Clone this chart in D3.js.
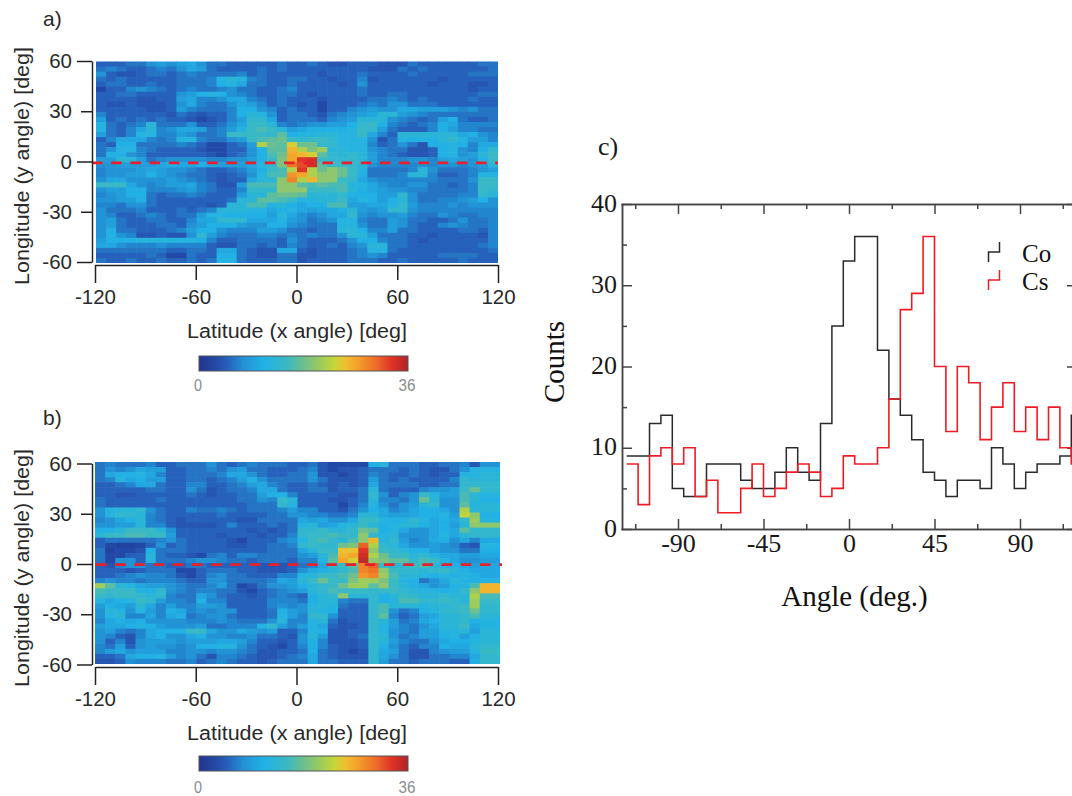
<!DOCTYPE html>
<html><head><meta charset="utf-8">
<script src="https://cdn.jsdelivr.net/npm/d3@7/dist/d3.min.js"></script>
<style>html,body{margin:0;padding:0;background:#fff;overflow:hidden}svg{display:block}</style>
</head><body><svg id="c" width="1072" height="796"></svg>
<script>
const latTicks=[-120,-60,0,60,120];
const lonTicks=[-60,-30,0,30,60];
const angleTicks=[-90,-45,0,45,90];
const angleMinor=[-112.5,-67.5,-22.5,22.5,67.5,112.5];
const countTicks=[0,10,20,30,40];
const countMinor=[5,15,25,35];
const scaleLabels=["0","36"];
const coCounts=[9,9,13,14,5,4,4,8,8,8,6,5,5,7,10,7,6,13,25,33,36,36,22,16,14,11,7,6,4,6,6,5,10,8,5,7,8,8,9,14];
const csCounts=[8,3,9,10,8,10,4,6,2,2,5,8,4,5,7,8,7,4,5,9,8,8,10,16,27,29,36,20,12,20,18,11,15,18,12,15,11,15,10,8];
const gridA=[
[5,5,5,6,6,8,9,8,9,10,8,6,6,5,5,5,5,5,6,5,5,6,5,4,4,5,5,5,4,4,4,6,5,5,5,5,5,5,6,6],
[6,7,6,5,5,6,7,6,8,10,9,6,5,5,5,5,6,5,6,5,5,5,5,5,5,5,5,4,4,4,6,5,6,5,5,5,5,5,5,6],
[8,5,4,4,5,6,6,5,6,7,6,6,6,6,7,5,6,5,5,5,5,5,4,5,5,5,6,5,5,5,5,6,5,5,5,5,5,6,6,6],
[6,5,6,5,5,5,5,5,6,6,6,7,12,13,12,7,6,5,5,6,6,5,5,4,5,5,7,4,5,5,5,5,5,5,4,5,5,5,5,5],
[5,6,6,5,5,6,5,5,6,6,6,7,11,12,10,6,6,5,5,6,5,5,5,5,4,5,8,5,5,5,5,5,5,4,5,5,5,4,4,5],
[3,5,5,7,8,7,6,5,6,7,6,6,7,8,6,6,5,5,6,7,5,5,5,5,5,5,6,5,5,5,5,5,5,5,5,5,5,4,5,5],
[5,5,6,6,5,5,5,5,8,9,11,12,11,8,7,6,5,5,6,6,5,4,5,5,5,5,6,5,5,6,6,5,5,5,5,5,5,5,6,6],
[5,5,5,5,4,4,5,5,9,10,7,7,8,10,10,7,6,5,6,5,5,5,4,5,5,5,5,6,6,7,6,5,6,5,5,5,5,6,5,5],
[5,4,4,5,4,4,4,5,8,10,7,6,6,8,10,9,7,5,6,5,4,5,3,5,5,5,6,7,6,8,8,6,6,6,5,5,5,5,5,5],
[5,5,5,5,5,4,4,5,9,7,6,6,6,7,11,11,8,7,5,6,5,5,3,5,5,7,8,9,8,8,10,10,9,9,9,8,7,8,6,6],
[7,5,5,5,5,5,5,4,6,5,4,5,5,7,11,13,12,8,5,6,6,5,4,6,7,8,9,10,13,13,9,8,7,6,6,6,6,6,6,6],
[9,5,6,5,6,5,6,5,5,4,3,4,5,7,9,14,14,10,5,6,6,6,5,7,8,9,13,13,13,8,7,6,5,6,9,11,6,5,5,6],
[12,6,5,6,7,13,6,6,6,8,5,5,6,8,10,15,15,13,7,6,7,8,8,9,9,11,14,15,11,7,6,5,6,7,11,10,7,7,7,7],
[12,6,5,7,10,13,7,8,10,10,9,6,7,9,12,15,16,15,13,9,10,11,11,11,11,12,15,14,9,6,5,5,5,7,11,9,7,7,6,6],
[9,6,5,7,12,12,7,7,9,8,6,6,7,15,15,15,15,14,17,11,12,12,13,13,12,12,15,10,7,5,13,13,13,13,13,13,10,11,8,7],
[5,7,10,10,10,7,6,7,12,12,7,6,6,8,9,15,16,17,18,15,14,15,15,14,12,12,12,8,4,6,12,11,12,11,13,14,12,9,9,7],
[6,5,11,11,6,6,6,6,7,6,5,3,3,5,6,9,22,18,17,24,18,18,14,14,12,12,12,7,5,6,8,6,4,11,11,12,11,7,10,10],
[6,8,12,12,7,6,5,5,5,5,4,3,3,5,5,8,11,17,17,26,22,19,21,13,13,12,12,8,7,6,6,4,4,5,11,12,8,7,11,14],
[6,11,11,8,7,5,5,5,5,5,5,4,3,5,6,8,11,16,18,27,26,24,17,14,13,14,13,9,7,6,5,4,4,5,11,12,8,9,13,15],
[9,9,13,13,9,6,7,8,8,8,8,7,7,8,8,9,11,15,19,27,33,34,15,14,14,14,13,9,7,7,7,8,8,7,9,10,9,8,11,15],
[8,8,9,9,9,9,10,11,10,10,11,10,9,9,9,10,12,14,19,30,32,34,17,15,15,14,13,8,7,7,7,7,8,7,8,8,7,8,9,13],
[7,8,8,8,9,10,9,8,8,7,6,5,5,6,7,9,11,15,16,22,33,22,18,20,18,15,12,6,6,6,6,7,13,8,6,6,6,7,8,9],
[7,8,8,9,9,11,9,8,7,6,6,5,4,5,6,8,12,16,16,28,27,22,20,20,18,15,11,6,6,6,7,13,13,7,5,5,6,7,12,12],
[8,10,10,8,8,8,8,9,8,7,6,5,4,5,5,10,13,13,20,29,22,26,20,20,15,14,10,8,7,7,7,7,7,7,6,6,6,8,15,15],
[15,15,15,10,8,7,8,9,9,10,7,6,4,4,9,16,16,16,20,20,17,16,17,16,16,12,12,10,8,7,7,8,8,6,6,5,6,7,15,15],
[8,9,9,11,11,7,7,7,8,9,7,6,5,5,7,14,14,14,20,20,20,15,15,15,16,13,11,10,9,8,8,7,7,6,6,6,6,7,15,14],
[7,8,9,11,11,6,5,6,6,7,6,5,5,5,9,13,13,17,18,18,17,13,13,13,14,11,11,11,9,9,14,8,6,6,6,6,7,7,14,13],
[8,8,9,9,11,6,5,5,5,5,5,5,5,6,13,13,17,17,16,15,12,12,13,13,15,10,12,11,9,11,13,8,6,6,7,7,8,9,11,8],
[7,7,6,8,8,6,5,5,5,5,5,4,5,13,13,16,16,12,13,11,10,11,11,16,16,9,9,10,10,12,14,9,7,7,7,8,7,8,8,8],
[8,6,6,6,7,5,5,5,6,5,6,7,13,13,13,12,12,10,11,12,10,9,10,10,11,13,9,8,9,14,14,8,7,7,7,7,7,7,7,7],
[8,7,5,5,6,7,6,5,6,6,9,12,12,11,11,11,11,9,13,10,8,7,8,10,10,14,8,7,8,8,9,7,6,6,8,7,6,6,7,7],
[8,9,6,5,5,6,6,5,5,7,10,10,14,14,14,10,10,10,12,9,8,6,7,8,12,12,7,6,6,9,8,6,6,5,5,6,8,6,6,7],
[8,9,6,5,5,5,6,6,5,8,9,11,11,11,9,8,8,11,11,8,7,6,6,6,12,12,8,6,6,9,8,6,5,5,7,8,7,6,6,7],
[8,11,6,6,5,5,5,6,7,9,11,11,8,7,7,7,9,9,8,6,6,5,6,6,13,13,11,7,7,9,6,6,5,5,5,5,6,6,5,7],
[8,11,8,7,4,4,5,4,4,8,14,9,7,6,6,6,7,7,6,7,6,7,6,6,8,13,13,9,6,6,6,5,5,4,5,5,5,5,4,7],
[9,11,11,11,12,12,12,12,12,12,11,7,5,5,6,6,6,6,5,8,6,5,5,5,6,8,11,11,7,6,6,5,4,5,5,5,5,5,5,7],
[10,10,8,7,7,7,8,7,7,7,7,5,4,4,6,6,5,6,5,7,6,5,5,6,5,7,8,13,13,6,6,5,5,5,5,5,5,5,6,7],
[6,6,6,6,6,6,6,5,5,6,6,5,10,10,6,5,4,4,10,10,5,4,5,5,5,6,7,12,12,6,5,5,5,5,5,5,5,5,5,6],
[5,5,5,5,5,6,5,3,3,6,5,5,11,11,6,5,4,4,6,6,4,4,5,5,5,6,7,8,7,5,5,5,5,5,6,6,6,6,5,5],
[6,5,5,6,5,5,6,5,5,6,5,6,12,12,6,5,5,5,6,6,4,5,5,5,5,6,6,6,5,5,6,5,5,5,5,5,6,5,5,5]
];
const gridB=[
[6,7,6,6,6,7,5,5,6,6,6,8,6,5,6,7,6,6,6,5,5,6,4,3,3,3,3,11,13,6,6,6,5,5,6,6,7,4,8,8],
[6,8,7,8,10,9,9,5,5,6,6,7,6,8,9,6,6,5,5,5,6,7,4,3,4,4,5,6,6,6,5,6,5,4,4,6,8,12,12,12],
[6,10,11,11,12,10,7,5,5,6,6,6,7,10,10,8,6,5,5,6,6,8,4,4,3,4,5,7,6,5,5,6,5,4,5,5,12,12,13,13],
[6,7,12,10,11,9,9,5,5,6,6,5,6,7,9,11,8,6,6,6,6,8,6,4,4,4,5,9,6,5,6,5,5,5,5,7,14,13,13,13],
[5,5,6,7,10,10,6,5,5,7,7,5,5,6,7,9,10,7,6,5,5,6,5,4,5,4,5,10,6,6,6,6,5,5,6,6,14,14,14,14],
[5,5,5,5,5,6,6,5,5,8,6,4,5,6,6,7,10,10,6,5,5,6,6,4,5,5,6,13,6,5,5,5,7,8,8,9,15,18,14,14],
[5,5,4,4,5,5,5,5,5,6,5,4,5,5,6,6,9,11,11,7,5,5,5,5,4,4,6,14,8,5,7,8,15,12,9,9,16,13,12,12],
[6,5,5,5,5,5,6,5,5,5,5,5,5,5,6,6,8,7,15,13,5,5,5,4,4,5,6,13,7,7,6,8,18,13,8,8,16,13,11,11],
[6,5,5,5,5,5,5,5,5,5,5,5,5,5,5,6,6,6,14,12,5,5,5,5,3,5,7,12,8,6,8,9,13,14,8,8,17,12,13,13],
[8,12,13,13,14,8,6,5,5,7,6,6,7,6,5,6,6,6,7,9,7,7,5,5,4,6,8,11,10,7,8,10,11,11,10,8,22,13,13,13],
[8,12,14,14,13,7,6,5,5,5,5,5,6,5,5,5,5,6,6,8,8,7,7,6,6,7,13,13,10,9,9,10,11,11,12,9,23,20,11,11],
[7,8,10,11,13,7,6,5,4,5,5,5,5,5,4,4,6,6,6,6,10,9,10,8,8,10,15,15,12,11,12,14,12,10,11,10,14,21,12,12],
[8,8,9,9,13,7,7,5,4,4,4,4,5,7,5,5,5,6,5,6,12,13,9,10,12,13,15,13,11,12,13,13,11,10,11,9,13,20,20,20],
[11,11,13,15,15,15,13,8,5,5,5,5,5,5,5,4,5,4,5,6,14,14,15,13,13,14,18,17,11,12,10,8,8,10,11,10,17,14,14,14],
[13,15,15,16,16,15,15,9,5,5,5,5,4,5,5,5,4,5,5,7,14,15,15,16,15,14,20,14,12,13,8,8,8,10,12,10,13,14,14,14],
[5,6,6,6,6,6,7,8,6,5,5,5,5,4,3,5,5,5,7,8,12,15,16,14,13,16,20,26,12,14,9,7,8,10,11,8,10,7,10,10],
[5,3,2,2,3,5,8,5,6,5,5,5,5,4,4,5,5,6,6,7,14,15,14,14,18,19,31,22,14,13,10,8,8,9,8,7,5,4,12,12],
[6,2,3,3,4,11,6,6,6,5,5,5,5,5,5,5,5,6,6,6,10,13,15,15,25,25,33,20,15,14,13,11,11,9,8,8,6,6,11,11],
[6,3,3,5,5,13,6,5,5,4,3,6,7,5,7,7,6,6,6,6,8,9,13,16,26,27,34,22,18,15,15,13,14,12,10,10,9,9,10,10],
[6,3,8,8,5,12,6,6,6,7,8,8,7,6,6,5,6,6,6,5,7,7,12,17,27,24,35,20,19,17,17,14,16,15,12,10,8,8,9,9],
[5,4,7,8,8,6,6,5,5,6,6,5,5,5,5,5,4,4,4,5,6,7,10,14,15,17,29,31,15,13,14,15,16,13,11,11,10,9,10,10],
[5,5,5,4,5,6,6,6,3,3,5,6,6,6,5,5,4,4,4,5,8,10,11,13,14,16,29,30,20,15,14,14,13,14,15,13,11,10,10,10],
[5,5,6,7,8,7,7,6,4,3,5,7,8,6,6,5,5,5,7,7,12,13,15,15,16,18,28,29,21,16,13,13,12,11,12,11,12,11,10,10],
[7,8,7,7,6,7,7,7,6,5,5,8,8,6,6,6,6,7,10,9,13,15,18,15,15,19,21,21,19,15,12,11,6,8,10,13,12,11,12,12],
[21,17,13,12,10,9,9,8,7,6,6,7,9,6,3,4,6,8,8,9,11,13,14,15,18,21,21,17,20,15,13,11,10,8,9,11,12,16,26,26],
[16,15,15,15,12,11,14,8,7,6,7,7,6,6,4,3,5,6,7,8,9,13,14,16,15,15,15,14,15,15,14,13,12,12,11,12,14,20,26,26],
[15,14,15,15,14,13,14,7,6,6,10,8,6,5,5,4,5,6,7,6,5,11,13,14,20,13,13,14,11,13,15,14,13,13,14,13,13,22,16,16],
[12,10,11,12,15,14,9,7,7,6,11,7,7,5,5,5,5,7,7,7,6,11,13,13,7,6,6,14,11,12,16,16,14,14,15,14,13,21,15,15],
[9,11,10,9,13,10,7,9,7,7,9,9,8,5,5,5,5,7,8,7,8,12,13,12,6,5,5,14,16,13,13,13,12,13,13,14,15,21,14,14],
[8,13,12,8,12,9,7,11,10,7,8,7,8,8,5,5,5,6,11,9,8,13,12,11,5,5,5,14,16,8,6,7,11,12,14,14,15,18,14,14],
[8,12,13,7,7,10,7,10,11,6,7,8,8,6,5,5,5,6,12,9,7,14,14,8,5,5,5,14,17,7,5,6,9,10,13,13,14,16,13,13],
[7,10,11,10,11,8,8,8,8,7,7,7,8,7,6,6,6,8,13,7,7,12,13,6,4,5,5,14,13,9,6,7,10,11,13,13,14,11,12,12],
[9,10,10,11,12,11,9,8,8,8,9,6,6,7,7,7,12,14,9,7,9,12,10,5,4,4,5,14,12,9,7,6,8,10,13,13,15,10,12,12],
[8,9,7,6,7,10,11,11,11,15,15,10,8,8,10,9,8,9,5,5,7,12,11,4,4,5,5,14,12,8,7,6,9,9,12,12,13,9,13,13],
[8,7,5,4,7,10,11,8,8,10,11,8,8,7,7,8,6,6,5,4,8,13,9,4,4,5,6,14,13,8,6,7,9,9,11,12,9,11,13,13],
[8,5,7,4,8,9,9,9,8,9,9,9,10,10,9,7,5,5,4,5,8,11,7,4,4,4,5,14,13,9,7,6,6,8,10,11,11,12,13,13],
[7,6,9,5,8,9,8,8,7,8,11,11,12,12,8,6,5,4,3,5,7,11,7,5,4,4,5,14,11,8,6,5,7,7,11,10,10,13,14,14],
[7,9,10,8,9,9,9,7,7,8,8,7,8,8,7,6,4,4,5,5,6,11,6,5,4,3,4,14,10,9,6,4,4,7,8,9,9,12,15,15],
[5,5,6,10,11,11,12,9,7,8,6,4,7,7,6,5,4,4,5,6,7,10,6,5,4,4,4,14,10,8,6,4,4,6,6,7,7,10,14,14],
[4,4,5,8,7,7,7,6,6,7,5,6,7,6,5,5,4,5,6,6,6,10,6,6,5,5,5,14,9,6,6,5,6,6,6,5,5,11,14,14]
];

const svg=d3.select("#c");
const sans="'Liberation Sans',Arial,sans-serif", serif="'Liberation Serif','Times New Roman',serif";
const defs=svg.append("defs");
defs.append("filter").attr("id","soft").attr("x","-2%").attr("y","-2%").attr("width","104%").attr("height","104%")
  .append("feGaussianBlur").attr("stdDeviation",0.55);
const stops=[[0,"#22368e"],[0.08,"#2449a6"],[0.14,"#2662bc"],[0.21,"#2490d4"],[0.31,"#20b2e6"],[0.42,"#3ab9c4"],[0.5,"#6dbf8f"],[0.58,"#9ccb5e"],[0.65,"#c8d636"],[0.7,"#eec030"],[0.76,"#f59f2a"],[0.85,"#ec6a28"],[0.92,"#df3326"],[1,"#b1232a"]];
const color=d3.scaleLinear().domain(stops.map(s=>s[0]*36)).range(stops.map(s=>s[1])).clamp(true);

function heatPanel(grid,o){
  const nr=grid.length,nc=grid[0].length;
  const x=d3.scaleLinear().domain([-120,120]).range([o.x0,o.x1]);
  const y=d3.scaleLinear().domain([60,-60]).range([o.y0,o.y1]);
  const dx=240/nc,dy=120/nr;
  const g=svg.append("g").attr("filter","url(#soft)");
  grid.forEach((row,r)=>row.forEach((v,c)=>{
    const a=-120+c*dx,t=60-r*dy;
    g.append("rect").attr("x",x(a)).attr("y",y(t))
     .attr("width",x(a+dx)-x(a)+(c<nc-1?0.6:0)).attr("height",y(t-dy)-y(t)+(r<nr-1?0.6:0)).attr("fill",color(v));
  }));
  svg.append("line").attr("x1",o.dashFrom).attr("x2",o.dashTo).attr("y1",y(0)+o.dashDy).attr("y2",y(0)+o.dashDy)
    .attr("stroke","#e8202c").attr("stroke-width",2.8).attr("stroke-dasharray","10.5 8.7");
  const ax=svg.append("g").attr("transform",`translate(0,${o.axisY})`)
    .call(d3.axisBottom(d3.scaleLinear().domain([-120,120]).range([95,498])).tickValues(latTicks).tickSize(18).tickPadding(6.5).tickSizeOuter(0).tickFormat(d=>String(d)));
  ax.selectAll(".tick line").attr("y2",d=>Math.abs(d)===60?15:18);
  const ay=svg.append("g").attr("transform",`translate(92,0)`)
    .call(d3.axisLeft(d3.scaleLinear().domain([60,-60]).range([o.tickY0,o.tickY0+201])).tickValues(lonTicks).tickSize(15).tickPadding(5).tickSizeOuter(0).tickFormat(d=>String(d)));
  ay.selectAll(".tick line").attr("x2",d=>Math.abs(d)===30?-11:-15);
  [ax,ay].forEach(s=>{
    s.selectAll("path,line").attr("stroke","#222").attr("stroke-width",1.5);
    s.selectAll("text").attr("font-family",sans).attr("font-size",20.5).attr("fill","#2a2a2a");
  });
  svg.append("text").attr("transform",`translate(28.5,${o.ylabY}) rotate(-90)`).attr("text-anchor","middle")
    .attr("font-family",sans).attr("font-size",20).attr("fill","#2a2a2a")
    .attr("textLength",238).attr("lengthAdjust","spacingAndGlyphs").text("Longitude (y angle) [deg]");
  svg.append("text").attr("x",297).attr("y",o.xlabY).attr("text-anchor","middle")
    .attr("font-family",sans).attr("font-size",20).attr("fill","#2a2a2a")
    .attr("textLength",220).attr("lengthAdjust","spacingAndGlyphs").text("Latitude (x angle) [deg]");
  svg.append("text").attr("x",43).attr("y",o.tagY).attr("font-family",sans).attr("font-size",21).attr("fill","#2a2a2a").text(o.tag);
  // colour bar
  const gid="cb"+o.tag[0];
  const lg=defs.append("linearGradient").attr("id",gid);
  stops.forEach(s=>lg.append("stop").attr("offset",s[0]).attr("stop-color",s[1]));
  svg.append("rect").attr("x",199).attr("y",o.barY).attr("width",209).attr("height",15)
    .attr("fill",`url(#${gid})`).attr("stroke","#555").attr("stroke-width",1);
  svg.append("text").attr("x",198).attr("y",o.barLab).attr("text-anchor","middle").attr("font-family",sans)
    .attr("font-size",17).attr("fill","#8c8c8c").attr("textLength",8).attr("lengthAdjust","spacingAndGlyphs").text(scaleLabels[0]);
  svg.append("text").attr("x",407).attr("y",o.barLab).attr("text-anchor","middle").attr("font-family",sans)
    .attr("font-size",17).attr("fill","#8c8c8c").attr("textLength",17).attr("lengthAdjust","spacingAndGlyphs").text(scaleLabels[1]);
}
heatPanel(gridA,{x0:96,x1:498,y0:61.5,y1:263,axisY:265,tickY0:61,dashFrom:92,dashTo:498,dashDy:0.6,ylabY:166,xlabY:338,tagY:26,tag:"a)",barY:356,barLab:391});
heatPanel(gridB,{x0:95,x1:500,y0:462,y1:664,axisY:667,tickY0:463.5,dashFrom:96,dashTo:502,dashDy:1.7,ylabY:568,xlabY:740,tagY:425,tag:"b)",barY:756,barLab:793});

// panel c
const L=622,R=1077,T=204,B=529;
const xc=d3.scaleLinear().domain([-120,120]).range([621,R]);
const yc=d3.scaleLinear().domain([0,40]).range([B,T]);
const ink="#444";
function styl(s,fs){
  s.selectAll("path,line").attr("stroke",ink).attr("stroke-width",1.5);
  s.selectAll("text").attr("font-family",serif).attr("font-size",fs).attr("fill","#1a1a1a");
}
[[d3.axisBottom,B,true],[d3.axisTop,T,false]].forEach(([f,yy,lab])=>{
  const main=svg.append("g").attr("transform",`translate(0,${yy})`)
    .call(f(xc).tickValues(angleTicks).tickSize(-10).tickSizeOuter(0).tickPadding(lab?4.5:0).tickFormat(lab?(d=>String(d)):""));
  styl(main,26);
  const minor=svg.append("g").attr("transform",`translate(0,${yy})`)
    .call(f(xc).tickValues(angleMinor).tickSize(-5).tickSizeOuter(0).tickFormat(""));
  styl(minor,26);
});
[[d3.axisLeft,L,true],[d3.axisRight,R,false]].forEach(([f,xx,lab])=>{
  const main=svg.append("g").attr("transform",`translate(${xx},0)`)
    .call(f(yc).tickValues(countTicks).tickSize(-10).tickSizeOuter(0).tickPadding(lab?5:0).tickFormat(lab?(d=>String(d)):""));
  styl(main,26);
  main.selectAll("text").attr("dy","0.27em");
  const minor=svg.append("g").attr("transform",`translate(${xx},0)`)
    .call(f(yc).tickValues(countMinor).tickSize(-5).tickSizeOuter(0).tickFormat(""));
  styl(minor,26);
});
const binCenters=d3.range(coCounts.length).map(i=>-114+6*i);
const stepLine=d3.line().x(d=>xc(d[0])).y(d=>yc(d[1]));
function stepPts(vals){
  const pts=[];
  vals.forEach((v,i)=>{pts.push([binCenters[i]-3,v]);pts.push([binCenters[i]+3,v]);});
  return pts;
}
svg.append("path").attr("d",stepLine(stepPts(coCounts))).attr("fill","none").attr("stroke","#2a2a2a").attr("stroke-width",1.5);
svg.append("path").attr("d",stepLine(stepPts(csCounts))).attr("fill","none").attr("stroke","#ee1c25").attr("stroke-width",1.6);
// legend
[["Co","#2a2a2a",262],["Cs","#ee1c25",290]].forEach(([t,c,yy])=>{
  svg.append("path").attr("d",`M988.5,${yy}V${yy-10}H999.5V${yy-20}`).attr("fill","none").attr("stroke",c).attr("stroke-width",1.5);
  svg.append("text").attr("x",1022).attr("y",yy).attr("font-family",serif).attr("font-size",25).attr("fill","#111").text(t);
});
svg.append("text").attr("x",598).attr("y",155).attr("font-family",serif).attr("font-size",26).attr("fill","#1a1a1a").text("c)");
svg.append("text").attr("transform","translate(564,362) rotate(-90)").attr("text-anchor","middle").attr("font-family",serif).attr("font-size",29).attr("fill","#111").text("Counts");
svg.append("text").attr("x",854.5).attr("y",606).attr("text-anchor","middle").attr("font-family",serif).attr("font-size",29).attr("fill","#111").text("Angle (deg.)");
</script></body></html>
